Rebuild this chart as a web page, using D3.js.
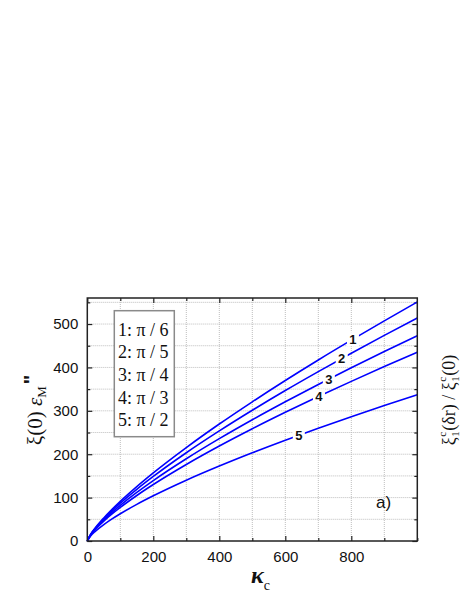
<!DOCTYPE html>
<html>
<head>
<meta charset="utf-8">
<script src="https://cdn.jsdelivr.net/npm/d3@7"></script>
<style>
  html, body { margin: 0; padding: 0; background: #fff; }
  svg { display: block; }
</style>
</head>
<body>
<svg id="chart" width="463" height="599"></svg>
<script>
// ---- data ----
const kappa   = [0, 10, 25, 50, 75, 100, 150, 200, 300, 400, 500, 600, 700, 800, 900, 1000];
const curve1  = [0, 15.2, 31.0, 53.2, 73.0, 91.4, 125.4, 157.0, 215.3, 269.6, 320.8, 369.9, 417.2, 462.8, 507.4, 551];
const curve2  = [0, 14.8, 30.0, 51.2, 69.9, 87.3, 119.2, 148.8, 203.4, 253.7, 301.3, 346.8, 390.4, 432.7, 473.9, 514];
const curve3  = [0, 14.3, 28.7, 48.5, 66.1, 82.2, 111.9, 139.2, 189.5, 235.8, 279.4, 320.8, 360.8, 399.3, 436.8, 473];
const curve4  = [0, 13.8, 27.3, 46.0, 62.3, 77.3, 104.8, 130.1, 176.3, 218.8, 258.6, 296.5, 332.9, 367.9, 401.9, 435];
const curve5  = [0, 11.7, 22.8, 37.8, 50.9, 62.8, 84.4, 104.1, 140.0, 172.6, 203.2, 232.2, 259.8, 286.4, 312.0, 337];
const seriesNames   = ["1", "2", "3", "4", "5"];
const legendLabels  = ["1: π / 6", "2: π / 5", "3: π / 4", "4: π / 3", "5: π / 2"];
const labelKappa    = [805, 771, 732, 702, 641];
const xTickLabels   = [0, 200, 400, 600, 800];
const yTickLabels   = [0, 100, 200, 300, 400, 500];

const allSeries = [curve1, curve2, curve3, curve4, curve5];

// ---- layout ----
const svg = d3.select("#chart");
const L = 87.3, R = 417.3, T = 298, B = 541;
const x = d3.scaleLinear().domain([0, 1000]).range([L, R]);
const y = d3.scaleLinear().domain([0, 560]).range([B, T]);

const blue = "#0000ff";

// grid (dotted)
const grid = svg.append("g");
d3.range(100, 1000, 100).forEach(v => {
  grid.append("line").attr("x1", x(v)).attr("x2", x(v)).attr("y1", T).attr("y2", B)
    .attr("stroke", "#bdbdbd").attr("stroke-width", 1).attr("stroke-dasharray", "1,1");
});
d3.range(50, 560, 50).forEach(v => {
  grid.append("line").attr("x1", L).attr("x2", R).attr("y1", y(v)).attr("y2", y(v))
    .attr("stroke", "#bdbdbd").attr("stroke-width", 1).attr("stroke-dasharray", "1,1");
});

// axes with inward ticks
const axFont = "Arial, 'Liberation Sans', sans-serif";
function styleAxis(g) {
  g.select(".domain").remove();
  g.selectAll(".tick line").attr("stroke", "#222").attr("stroke-width", 1.2);
  g.selectAll("text").attr("font-family", axFont).attr("font-size", 15).attr("fill", "#111");
}
svg.append("g").attr("transform", `translate(0,${B})`)
  .call(d3.axisBottom(x).tickValues(xTickLabels).tickSize(-5).tickPadding(10).tickFormat(d3.format("d")))
  .call(styleAxis);
svg.append("g").attr("transform", `translate(0,${B})`)
  .call(d3.axisBottom(x).tickValues(d3.range(100, 1000, 200).concat([1000])).tickSize(-3).tickFormat(""))
  .call(styleAxis);
svg.append("g").attr("transform", `translate(0,${T})`)
  .call(d3.axisTop(x).tickValues(xTickLabels).tickSize(-5).tickFormat(""))
  .call(styleAxis);
svg.append("g").attr("transform", `translate(0,${T})`)
  .call(d3.axisTop(x).tickValues(d3.range(100, 1000, 200)).tickSize(-3).tickFormat(""))
  .call(styleAxis);
svg.append("g").attr("transform", `translate(${L},0)`)
  .call(d3.axisLeft(y).tickValues(yTickLabels).tickSize(-5).tickPadding(9).tickFormat(d3.format("d")))
  .call(styleAxis);
svg.append("g").attr("transform", `translate(${L},0)`)
  .call(d3.axisLeft(y).tickValues(d3.range(50, 560, 100)).tickSize(-3).tickFormat(""))
  .call(styleAxis);
svg.append("g").attr("transform", `translate(${R},0)`)
  .call(d3.axisRight(y).tickValues(yTickLabels).tickSize(-5).tickFormat(""))
  .call(styleAxis);
svg.append("g").attr("transform", `translate(${R},0)`)
  .call(d3.axisRight(y).tickValues(d3.range(50, 560, 100)).tickSize(-3).tickFormat(""))
  .call(styleAxis);

// curves
const line = d3.line().x((d, i) => x(kappa[i])).y(d => y(d)).curve(d3.curveMonotoneX);
allSeries.forEach(s => {
  svg.append("path").datum(s).attr("d", line)
    .attr("fill", "none").attr("stroke", blue).attr("stroke-width", 1.6);
});

// curve labels with white gap
function interp(series, k) {
  const i = d3.bisectRight(kappa, k) - 1;
  const t = (k - kappa[i]) / (kappa[i + 1] - kappa[i]);
  return series[i] + t * (series[i + 1] - series[i]);
}
allSeries.forEach((s, i) => {
  const px = x(labelKappa[i]), py = y(interp(s, labelKappa[i]));
  svg.append("rect").attr("x", px - 6).attr("y", py - 7).attr("width", 12).attr("height", 14).attr("fill", "#fff");
  svg.append("text").attr("x", px).attr("y", py + 4.5).attr("text-anchor", "middle")
    .attr("font-family", axFont).attr("font-weight", "bold").attr("font-size", 13).attr("fill", "#111")
    .text(seriesNames[i]);
});

// frame
svg.append("rect").attr("x", L).attr("y", T).attr("width", R - L).attr("height", B - T)
  .attr("fill", "none").attr("stroke", "#222").attr("stroke-width", 1.5);

// legend box
const serif = "'Liberation Serif', 'Times New Roman', serif";
svg.append("rect").attr("x", 114.3).attr("y", 310.7).attr("width", 60).attr("height", 126)
  .attr("fill", "#fff").attr("stroke", "#8a8a8a").attr("stroke-width", 1.5);
legendLabels.forEach((t, i) => {
  svg.append("text").attr("x", 118).attr("y", 335.7 + i * 22.6)
    .attr("font-family", serif).attr("font-size", 18).attr("fill", "#111").text(t);
});

// "a)"
svg.append("text").attr("x", 376).attr("y", 508).attr("font-family", axFont).attr("font-size", 17)
  .attr("fill", "#111").text("a)");

// x axis title: kappa_c
const xt = svg.append("text").attr("x", 251).attr("y", 583).attr("font-family", serif).attr("fill", "#111");
xt.append("tspan").attr("font-size", 24).attr("font-style", "italic").attr("font-weight", "bold").text("κ");
xt.append("tspan").attr("font-size", 14).attr("dy", 7).text("c");

// left y title
const yt = svg.append("text").attr("transform", "translate(42,410) rotate(-90)")
  .attr("text-anchor", "middle").attr("font-family", serif).attr("fill", "#111").attr("font-size", 21);
yt.append("tspan").text("ξ(0) ");
yt.append("tspan").attr("font-style", "italic").text("ε");
yt.append("tspan").attr("font-size", 13).attr("dy", 4).text("M");
yt.append("tspan").attr("font-size", 20).attr("dy", -8).attr("dx", 2).attr("font-family", axFont).attr("font-weight", "bold").text("\"");

// right y title built piece by piece in a rotated group
const rg = svg.append("g").attr("transform", "translate(455,400) rotate(-90)");
const pieces = [
  { t: "ξ", size: 18, dy: 0, adv: true },
  { t: "c", size: 11, dy: -9, adv: false },
  { t: "1", size: 11, dy: 4, adv: true },
  { t: "(δr) / ξ", size: 18, dy: 0, adv: true },
  { t: "c", size: 11, dy: -9, adv: false },
  { t: "1", size: 11, dy: 4, adv: true },
  { t: "(0)", size: 18, dy: 0, adv: true }
];
let cx = 0;
const nodes = [];
pieces.forEach(p => {
  const el = rg.append("text").attr("x", cx + (p.t === "c" || p.t === "1" ? 0.5 : 0)).attr("y", p.dy)
    .attr("font-family", serif).attr("font-size", p.size).attr("fill", "#111").text(p.t);
  nodes.push(el);
  const w = el.node().getComputedTextLength();
  if (p.adv) cx += w + (p.t === "1" ? 1 : 0);
});
nodes.forEach(el => el.attr("x", +el.attr("x") - cx / 2));
</script>
</body>
</html>
